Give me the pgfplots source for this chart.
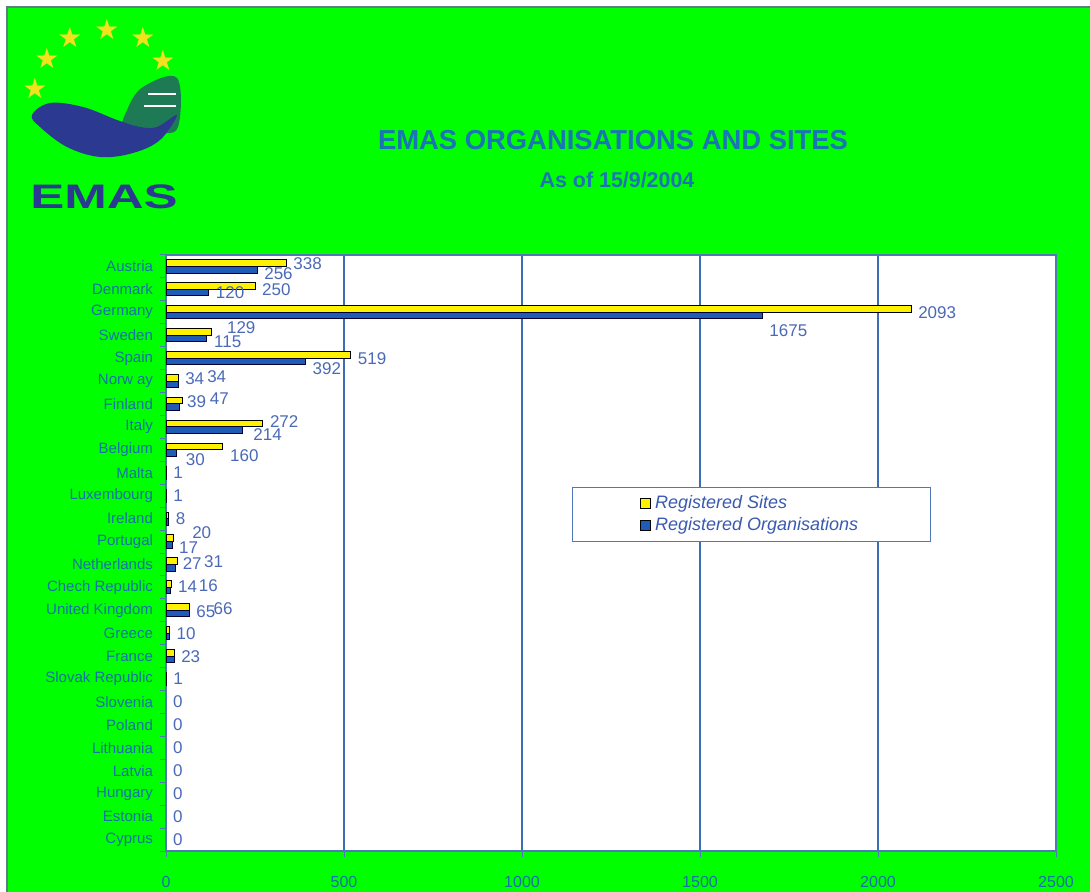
\documentclass[border=0pt]{standalone}
\usepackage{graphicx}
\usepackage{fontspec}
\setmainfont{Liberation Sans}
\newfontfamily\symfont{DejaVu Sans}
\usepackage{pgfplots}
\pgfplotsset{compat=1.18}
\definecolor{bggreen}{HTML}{00FF00}
\definecolor{titleblue}{HTML}{1A75B5}
\definecolor{ticktext}{HTML}{1672A8}
\definecolor{vallab}{HTML}{4A6AB8}
\definecolor{legtext}{HTML}{3A5AB0}
\definecolor{gridblue}{HTML}{3D6DB5}
\definecolor{axisblue}{HTML}{5078B8}
\definecolor{barblue}{HTML}{1F5CB8}
\definecolor{logoblue}{HTML}{2B3990}
\definecolor{leafgreen}{HTML}{1E7A55}
\definecolor{staryellow}{HTML}{F2E21E}
\newcommand{\lab}[3]{\hspace*{#1}\raisebox{#2}[\height][\depth]{#3}}
\tikzset{vallabel/.style={font=\fontsize{8.5}{9}\selectfont, text=vallab, anchor=west}}
\begin{document}
\begin{tikzpicture}
\path[use as bounding box] (0,0) rectangle (545pt,446pt);
\fill[white] (0,0) rectangle (545pt,446pt);
\fill[bggreen] (3.5pt,0) rectangle (545pt,442.5pt);
\draw[gray!70!teal, line width=0.6pt] (3.5pt,0) -- (3.5pt,442.5pt) -- (545pt,442.5pt);
% logo (decoration)
\fill[leafgreen] plot[smooth cycle, tension=0.6] coordinates {(61.5pt,379.5pt) (63.5pt,391pt) (71.5pt,402.5pt) (88.5pt,407pt) (89pt,382.5pt) (78.5pt,379.5pt)};
\draw[white, line width=0.6pt] (74pt,399pt) -- (88pt,399pt);
\draw[white, line width=0.6pt] (72pt,393pt) -- (88pt,393pt);
\fill[logoblue] plot[smooth cycle, tension=0.6] coordinates {(16pt,388.5pt) (25pt,394.5pt) (41.5pt,392.5pt) (58.5pt,386pt) (70pt,382.5pt) (78.5pt,382.5pt) (88.5pt,388.5pt) (80pt,376pt) (66.5pt,369.5pt) (50pt,367.5pt) (33.5pt,372.5pt) (20pt,382.5pt)};
\foreach \p in {(17.5pt,402pt),(23.5pt,417pt),(35pt,427.5pt),(53.5pt,431.5pt),(71.5pt,427.5pt),(81.5pt,416pt)}
  \node[text=staryellow, font=\symfont\fontsize{14}{14}\selectfont, inner sep=0pt] at \p {★};
\node[font=\bfseries\fontsize{17}{17}\selectfont, text=logoblue, inner sep=0pt] at (52pt,347.5pt) {\scalebox{1.5}[1]{EMAS}};
% titles
\node[font=\bfseries\fontsize{13.7}{15}\selectfont, text=titleblue] at (306.5pt,376pt) {EMAS ORGANISATIONS AND SITES};
\node[font=\bfseries\fontsize{10.7}{12}\selectfont, text=titleblue] at (308.5pt,356pt) {As of 15/9/2004};
\begin{axis}[
  at={(83pt,20.5pt)}, anchor=south west,
  scale only axis, width=445pt, height=298pt,
  xmin=0, xmax=2500, ymin=-0.5, ymax=25.5, y dir=reverse,
  axis background/.style={fill=white},
  xtick={0,500,1000,1500,2000,2500},
  scaled x ticks=false,
  /pgf/number format/1000 sep={},
  /pgf/number format/assume math mode=true,
  ytick={0,...,25},
  yticklabels={Austria,Denmark,Germany,Sweden,Spain,Norw ay,Finland,Italy,Belgium,Malta,Luxembourg,Ireland,Portugal,Netherlands,Chech Republic,United Kingdom,Greece,France,Slovak Republic,Slovenia,Poland,Lithuania,Latvia,Hungary,Estonia,Cyprus},
  minor ytick={-0.5,0.5,...,25.5},
  major y tick style={draw=none},
  minor y tick style={draw=axisblue},
  minor tick length=3pt,
  major tick length=3pt,
  tick align=outside,
  xtick pos=bottom, ytick pos=left,
  xmajorgrids,
  major grid style={draw=gridblue, line width=0.6pt},
  axis line style={draw=axisblue, line width=0.6pt},
  tick style={draw=axisblue, line width=0.5pt},
  x tick label style={font=\fontsize{8}{9}\selectfont, text=ticktext, yshift=-6pt},
  y tick label style={font=\fontsize{7.5}{8}\selectfont, text=ticktext},
  legend style={at={(axis description cs:0.456,0.611)}, anchor=north west, draw=axisblue, line width=0.6pt, fill=white, inner xsep=34pt, inner ysep=2pt, font=\itshape\fontsize{9}{11}\selectfont, text=legtext, row sep=-1pt, cells={anchor=west}},
  legend cell align=left,
  clip=false,
]
\addplot[xbar, bar width=3.3pt, bar shift=1.65pt, fill=yellow, draw=black, line width=0.5pt,
  nodes near coords, point meta=explicit symbolic, every node near coord/.append style={vallabel},
  legend image code/.code={\draw[fill=yellow, draw=black, line width=0.5pt] (0pt,-2.4pt) rectangle (4.8pt,2.4pt);}]
coordinates {
(338,0) [\lab{0pt}{1.5pt}{338}]
(250,1) [\lab{0pt}{0pt}{250}]
(2093,2) [\lab{0pt}{0pt}{2093}]
(129,3) [\lab{4pt}{4pt}{129}]
(519,4) [\lab{0pt}{0pt}{519}]
(34,5) [\lab{11pt}{2pt}{34}]
(47,6) [\lab{10pt}{2.5pt}{47}]
(272,7) [\lab{0pt}{2.5pt}{272}]
(160,8) [\lab{0pt}{-3pt}{160}]
(1,9) []
(1,10) []
(8,11) []
(20,12) [\lab{6pt}{4.5pt}{20}]
(31,13) [\lab{10pt}{1.5pt}{31}]
(16,14) [\lab{10pt}{1pt}{16}]
(66,15) [\lab{8.5pt}{1pt}{66}]
(10,16) []
(23,17) []
(1,18) []
};
\addlegendentry{Registered Sites}
\addplot[xbar, bar width=3.3pt, bar shift=-1.65pt, fill=barblue, draw=black!80!blue, line width=0.5pt,
  nodes near coords, point meta=explicit symbolic, every node near coord/.append style={vallabel},
  legend image code/.code={\draw[fill=barblue, draw=black, line width=0.5pt] (0pt,-2.4pt) rectangle (4.8pt,2.4pt);}]
coordinates {
(256,0) [\lab{0pt}{-3.5pt}{256}]
(120,1) [\lab{0pt}{-1.5pt}{120}]
(1675,2) [\lab{0pt}{-9pt}{1675}]
(115,3) [\lab{0pt}{-3.5pt}{115}]
(392,4) [\lab{0pt}{-5pt}{392}]
(34,5) [\lab{0pt}{1pt}{34}]
(39,6) [\lab{0pt}{1pt}{39}]
(214,7) [\lab{2pt}{-4pt}{214}]
(30,8) [\lab{1pt}{-5pt}{30}]
(1,9) []
(1,10) []
(8,11) []
(17,12) [\lab{0pt}{-3pt}{17}]
(27,13) [\lab{0pt}{0.5pt}{27}]
(14,14) [\lab{0pt}{0.5pt}{14}]
(65,15) [\lab{0pt}{-0.5pt}{65}]
(10,16) []
(23,17) []
(1,18) []
};
\addlegendentry{Registered Organisations}
\addplot[draw=none, mark=none, forget plot, nodes near coords, point meta=explicit symbolic, every node near coord/.append style={vallabel}]
coordinates {
(1,9) [1]
(1,10) [1]
(8,11) [8]
(10,16) [10]
(23,17) [23]
(1,18) [1]
(0,19) [0]
(0,20) [0]
(0,21) [0]
(0,22) [0]
(0,23) [0]
(0,24) [0]
(0,25) [0]
};
\end{axis}
\end{tikzpicture}
\end{document}
